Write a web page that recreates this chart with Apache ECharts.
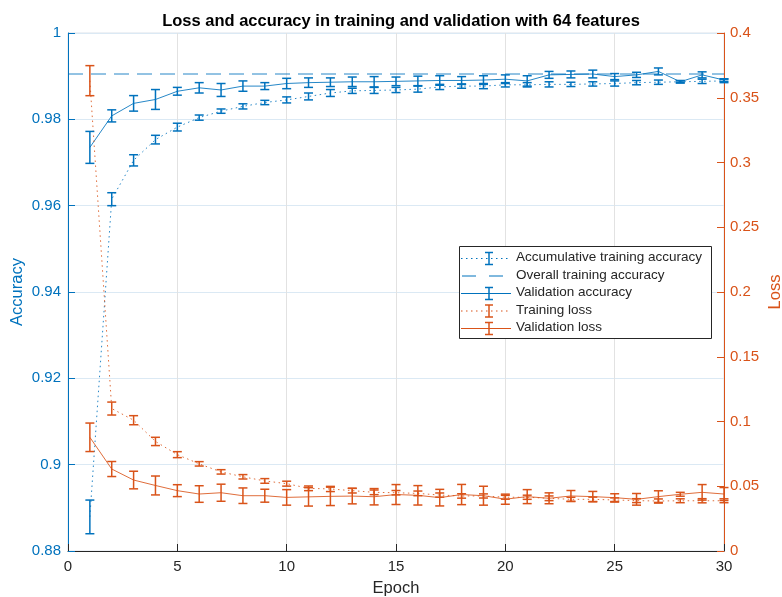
<!DOCTYPE html>
<html>
<head>
<meta charset="utf-8">
<script src="https://cdn.jsdelivr.net/npm/echarts@6/dist/echarts.min.js"></script>
<style>
html,body{margin:0;padding:0;background:#fff;}
#chart{width:782px;height:597px;}
</style>
</head>
<body>
<div id="chart"></div>
<script>
// ---- data ----
const epochs = [1,2,3,4,5,6,7,8,9,10,11,12,13,14,15,16,17,18,19,20,21,22,23,24,25,26,27,28,29,30];

const accTrain = [0.8879,0.9615,0.9705,0.9753,0.9782,0.9804,0.9819,0.9830,0.9839,0.9845,0.9853,0.9861,0.9866,0.9867,0.9868,0.9870,0.9875,0.9877,0.9877,0.9880,0.9880,0.9881,0.9881,0.9882,0.9883,0.9885,0.9886,0.9887,0.9888,0.9889];
const accTrainErr = [0.0039,0.0015,0.0013,0.0010,0.0009,0.0006,0.0005,0.0006,0.0005,0.0007,0.0008,0.0008,0.0006,0.0007,0.0006,0.0007,0.0006,0.0005,0.0006,0.0005,0.0005,0.0006,0.0005,0.0005,0.0006,0.0005,0.0005,0.0003,0.0005,0.0004];

const overallAcc = 0.9905;

const accVal = [0.9735,0.9808,0.9837,0.9846,0.9865,0.9873,0.9868,0.9877,0.9877,0.9883,0.9885,0.9886,0.9887,0.9887,0.9888,0.9889,0.9890,0.9890,0.9891,0.9893,0.9889,0.9903,0.9904,0.9905,0.9899,0.9903,0.9911,0.9887,0.9903,0.9891];
const accValErr = [0.0037,0.0014,0.0018,0.0023,0.0009,0.0012,0.0015,0.0012,0.0008,0.0012,0.0011,0.0010,0.0011,0.0012,0.0010,0.0011,0.0011,0.0009,0.0010,0.0010,0.0012,0.0008,0.0008,0.0009,0.0007,0.0006,0.0008,0.0002,0.0007,0.0003];

const lossTrain = [0.3632,0.1100,0.1010,0.0846,0.0744,0.0673,0.0611,0.0573,0.0541,0.0520,0.0484,0.0479,0.0466,0.0453,0.0450,0.0445,0.0432,0.0425,0.0425,0.0415,0.0415,0.0407,0.0399,0.0399,0.0394,0.0389,0.0386,0.0388,0.0388,0.0388];
const lossTrainErr = [0.0116,0.0050,0.0035,0.0032,0.0023,0.0017,0.0017,0.0017,0.0018,0.0019,0.0018,0.0020,0.0018,0.0018,0.0017,0.0018,0.0016,0.0017,0.0016,0.0015,0.0016,0.0018,0.0016,0.0017,0.0016,0.0015,0.0016,0.0015,0.0016,0.0015];

const lossVal = [0.0878,0.0633,0.0548,0.0506,0.0466,0.0440,0.0450,0.0427,0.0427,0.0414,0.0418,0.0422,0.0424,0.0419,0.0436,0.0430,0.0412,0.0436,0.0427,0.0400,0.0420,0.0407,0.0425,0.0420,0.0412,0.0399,0.0420,0.0438,0.0453,0.0440];
const lossValErr = [0.0110,0.0058,0.0068,0.0073,0.0046,0.0064,0.0066,0.0060,0.0050,0.0060,0.0071,0.0071,0.0060,0.0063,0.0077,0.0075,0.0064,0.0078,0.0073,0.0039,0.0054,0.0042,0.0042,0.0040,0.0030,0.0045,0.0045,0.0015,0.0060,0.0050];

const legendNames = ['Accumulative training accuracy','Overall training accuracy','Validation accuracy','Training loss','Validation loss'];
const titleText = 'Loss and accuracy in training and validation with 64 features';

// ---- styling ----
const BLUE = '#0072BD', ORANGE = '#D95319', DARK = '#262626';
const FONT = '"Liberation Sans", Arial, Helvetica, sans-serif';
const DOT = [1.5, 3.5];
const DASH = [15, 8];

const pair = (xs, ys) => xs.map((x, i) => [x, ys[i]]);
const triple = (xs, ys, es) => xs.map((x, i) => [x, ys[i], es[i]]);

function errSeries(data, color, yIdx) {
  return {
    type: 'custom', yAxisIndex: yIdx, data: data, z: 3,
    encode: { x: 0, y: 1 },
    renderItem: function (params, api) {
      const x = api.value(0), y = api.value(1), e = api.value(2);
      const t = api.coord([x, y + e]);
      const b = api.coord([x, y - e]);
      const w = 4.5;
      const st = { stroke: color, lineWidth: 1.5, fill: null };
      return { type: 'group', children: [
        { type: 'line', shape: { x1: t[0], y1: t[1], x2: b[0], y2: b[1] }, style: st },
        { type: 'line', shape: { x1: t[0] - w, y1: t[1], x2: t[0] + w, y2: t[1] }, style: st },
        { type: 'line', shape: { x1: b[0] - w, y1: b[1], x2: b[0] + w, y2: b[1] }, style: st }
      ]};
    }
  };
}

function lineSeries(data, color, yIdx, type) {
  return {
    type: 'line', yAxisIndex: yIdx, data: data, showSymbol: false, z: 2,
    lineStyle: { color: color, width: 1, type: type, opacity: 0.85 },
    itemStyle: { color: color }
  };
}

// legend drawn as graphic elements (MATLAB style error-bar icons)
const LG = { x: 459, y: 246, w: 252, h: 92, rowY0: 258.5, rowDy: 17.5 };
const legendStyles = [
  { color: BLUE, dash: DOT, bar: true },
  { color: BLUE, dash: DASH, bar: false },
  { color: BLUE, dash: null, bar: true },
  { color: ORANGE, dash: DOT, bar: true },
  { color: ORANGE, dash: null, bar: true }
];
const legendGraphics = [{
  type: 'rect', left: LG.x, top: LG.y, z: 100,
  shape: { width: LG.w, height: LG.h },
  style: { fill: '#fff', stroke: DARK, lineWidth: 1 }
}];
legendNames.forEach((name, i) => {
  const s = legendStyles[i];
  const cy = LG.rowY0 + i * LG.rowDy;
  const x1 = 461, x2 = 511, xc = 489;
  const line = {
    type: 'line', z: 101,
    shape: { x1: x1, y1: cy, x2: x2, y2: cy },
    style: { stroke: s.color, lineWidth: 1, lineDash: s.dash ? s.dash : null }
  };
  if (s.dash === DASH) { line.shape.x1 = 462; line.shape.x2 = 511; line.style.lineDash = [14, 13]; }
  legendGraphics.push(line);
  if (s.bar) {
    const st = { stroke: s.color, lineWidth: 1.5 };
    legendGraphics.push({ type: 'line', z: 102, shape: { x1: xc, y1: cy - 6, x2: xc, y2: cy + 6 }, style: st });
    legendGraphics.push({ type: 'line', z: 102, shape: { x1: xc - 4, y1: cy - 6, x2: xc + 4, y2: cy - 6 }, style: st });
    legendGraphics.push({ type: 'line', z: 102, shape: { x1: xc - 4, y1: cy + 6, x2: xc + 4, y2: cy + 6 }, style: st });
  }
  legendGraphics.push({
    type: 'text', z: 102, left: 516, top: cy - 8,
    style: { text: name, fill: DARK, font: '13.5px ' + FONT, textVerticalAlign: 'top' }
  });
});

const fmt = v => String(+v.toFixed(2));

const chart = echarts.init(document.getElementById('chart'), null, { renderer: 'canvas' });
chart.setOption({
  animation: false,
  backgroundColor: '#fff',
  title: {
    text: titleText, left: 396, top: 8, textAlign: 'center',
    textStyle: { fontFamily: FONT, fontSize: 16.5, fontWeight: 'bold', color: '#000' }
  },
  grid: { left: 68, right: 58, top: 33, bottom: 46, containLabel: false, outerBoundsMode: 'none',
          show: true, borderColor: '#dde3ea', borderWidth: 1, backgroundColor: 'transparent' },
  xAxis: {
    type: 'value', min: 0, max: 30, interval: 5,
    name: 'Epoch', nameLocation: 'middle', nameGap: 29,
    nameTextStyle: { fontFamily: FONT, fontSize: 16.5, color: DARK },
    axisLine: { lineStyle: { color: DARK, width: 1 } },
    axisTick: { inside: true, length: 7, lineStyle: { color: DARK } },
    axisLabel: { fontFamily: FONT, fontSize: 15, color: DARK, margin: 8 },
    splitLine: { show: true, lineStyle: { color: '#e2e2e2', width: 1 } }
  },
  yAxis: [{
    type: 'value', min: 0.88, max: 1, interval: 0.02, position: 'left',
    name: 'Accuracy', nameLocation: 'middle', nameGap: 42, nameMoveOverlap: false,
    nameTextStyle: { fontFamily: FONT, fontSize: 16.5, color: BLUE },
    axisLine: { show: true, lineStyle: { color: BLUE, width: 1 } },
    axisTick: { show: true, inside: true, length: 7, lineStyle: { color: BLUE } },
    axisLabel: { fontFamily: FONT, fontSize: 15, color: BLUE, margin: 7, formatter: fmt },
    splitLine: { show: true, lineStyle: { color: '#dbe9f4', width: 1 } }
  }, {
    type: 'value', min: 0, max: 0.4, interval: 0.05, position: 'right',
    name: 'Loss', nameLocation: 'middle', nameGap: 43, nameRotate: 90, nameMoveOverlap: false,
    nameTextStyle: { fontFamily: FONT, fontSize: 16.5, color: ORANGE },
    axisLine: { show: true, lineStyle: { color: ORANGE, width: 1 } },
    axisTick: { show: true, inside: true, length: 7, lineStyle: { color: ORANGE } },
    axisLabel: { fontFamily: FONT, fontSize: 15, color: ORANGE, margin: 6, formatter: fmt },
    splitLine: { show: false }
  }],
  graphic: legendGraphics,
  series: [
    lineSeries(pair(epochs, accTrain), BLUE, 0, DOT),
    errSeries(triple(epochs, accTrain, accTrainErr), BLUE, 0),
    lineSeries([[0, overallAcc], [30, overallAcc]], BLUE, 0, DASH),
    lineSeries(pair(epochs, accVal), BLUE, 0, 'solid'),
    errSeries(triple(epochs, accVal, accValErr), BLUE, 0),
    lineSeries(pair(epochs, lossTrain), ORANGE, 1, DOT),
    errSeries(triple(epochs, lossTrain, lossTrainErr), ORANGE, 1),
    lineSeries(pair(epochs, lossVal), ORANGE, 1, 'solid'),
    errSeries(triple(epochs, lossVal, lossValErr), ORANGE, 1)
  ]
});
</script>
</body>
</html>
